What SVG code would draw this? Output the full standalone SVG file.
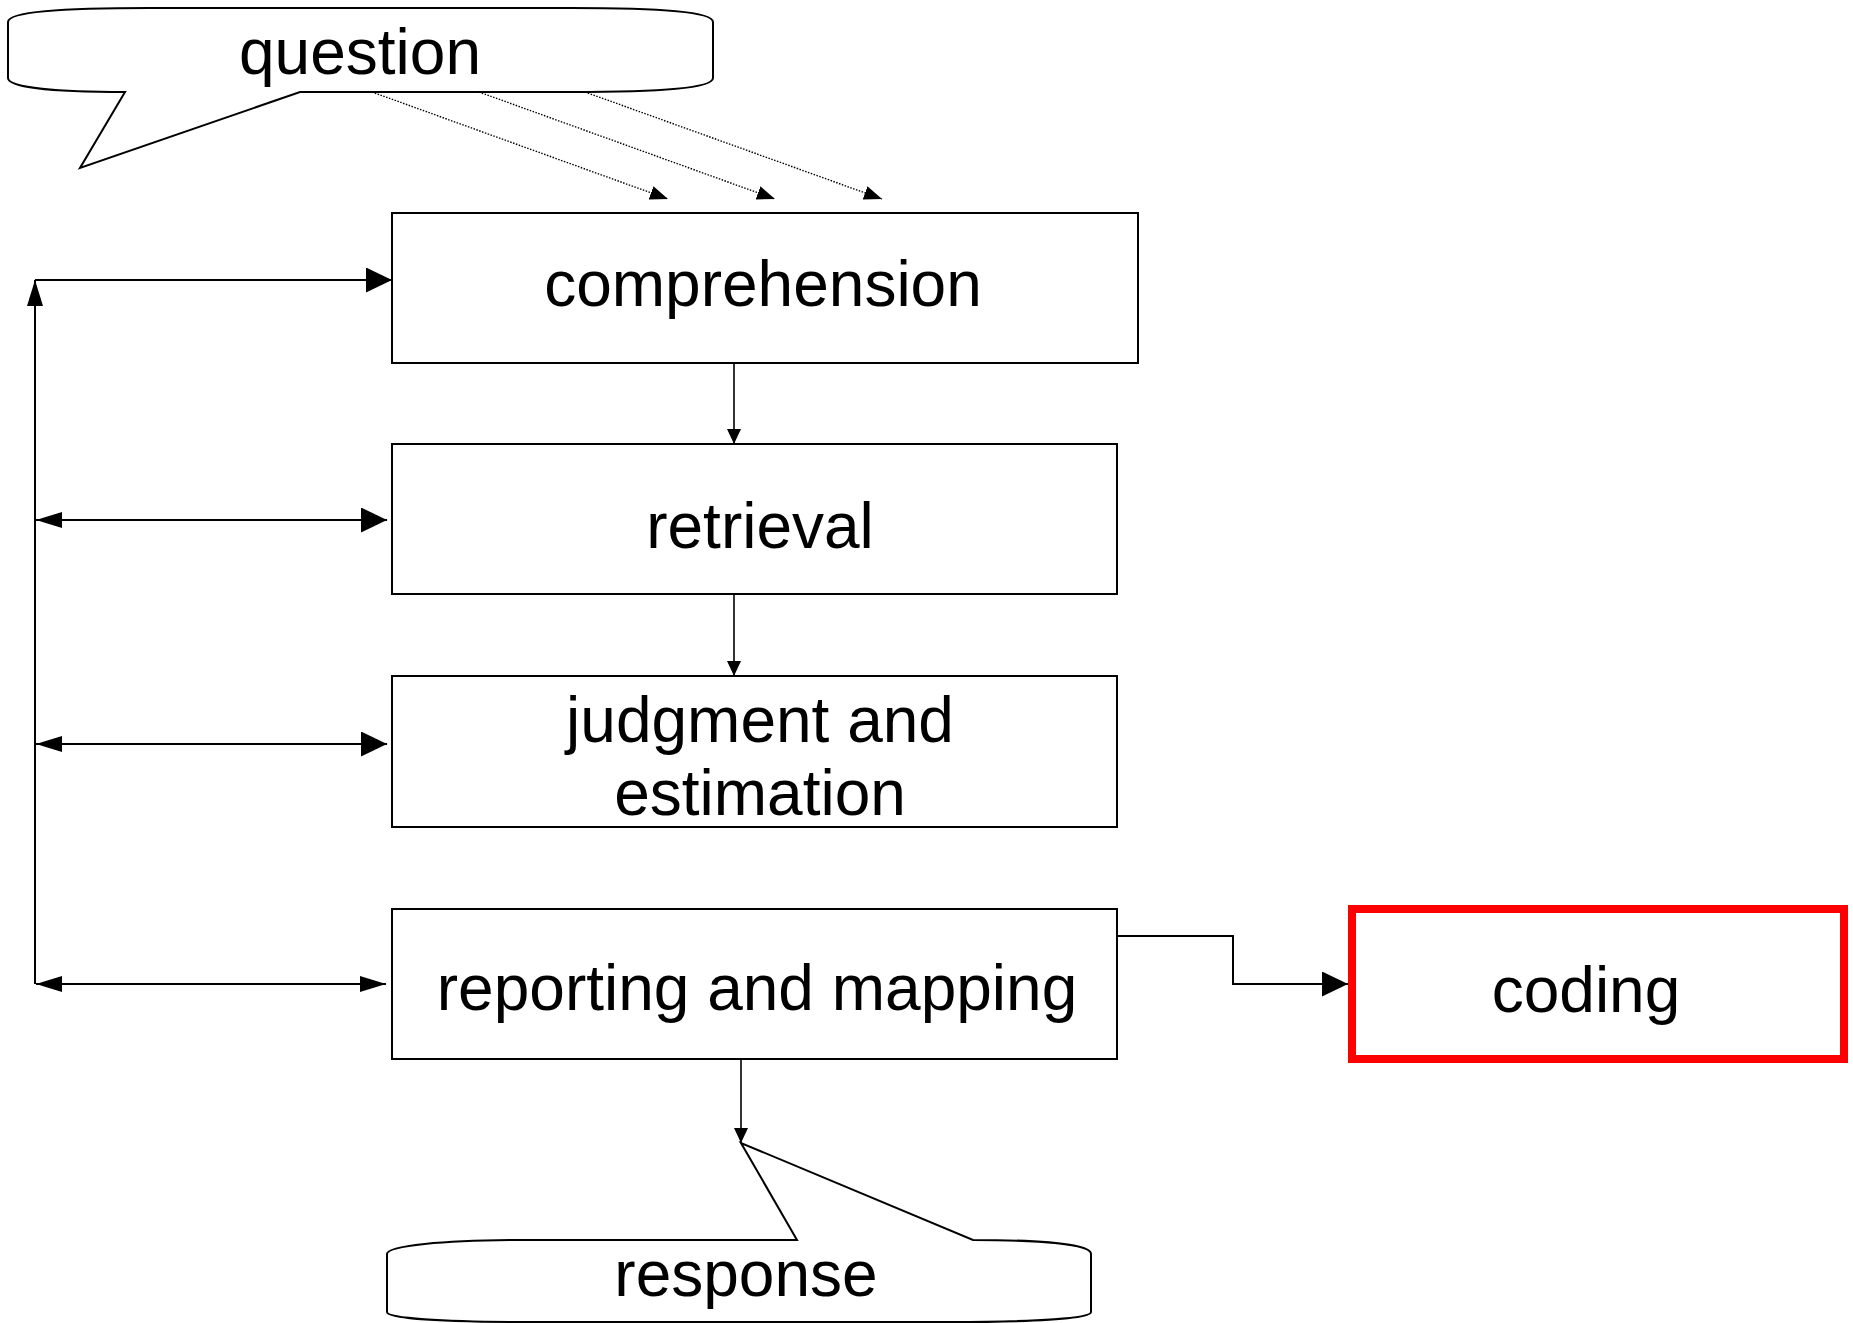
<svg xmlns="http://www.w3.org/2000/svg" width="1853" height="1323" viewBox="0 0 1853 1323">
<style>
  .box { fill: #ffffff; stroke: #000000; stroke-width: 2; }
  .bubble { fill: #ffffff; stroke: #000000; stroke-width: 2; stroke-linejoin: miter; }
  .lbl { font-family: "Liberation Sans", Arial, sans-serif; font-size: 64px; fill: #000000; text-anchor: middle; }
  .ln { fill: none; stroke: #000000; stroke-width: 2; }
  .thin { fill: none; stroke: #000000; stroke-width: 1.6; }
  .dot { fill: none; stroke: #000000; stroke-width: 1.4; stroke-dasharray: 1.5 1.5; }
</style>
<defs>
  <marker id="big" markerUnits="userSpaceOnUse" markerWidth="26" markerHeight="25" refX="26" refY="12.5" orient="auto-start-reverse">
    <path d="M0,0 L26,12.5 L0,25 Z" fill="#000"/>
  </marker>
  <marker id="med" markerUnits="userSpaceOnUse" markerWidth="26" markerHeight="16" refX="26" refY="8" orient="auto-start-reverse">
    <path d="M0,0 L26,8 L0,16 Z" fill="#000"/>
  </marker>
  <marker id="small" markerUnits="userSpaceOnUse" markerWidth="15" markerHeight="14" refX="15" refY="7" orient="auto">
    <path d="M0,0 L15,7 L0,14 Z" fill="#000"/>
  </marker>
  <marker id="dothead" markerUnits="userSpaceOnUse" markerWidth="18" markerHeight="14" refX="18" refY="7" orient="auto">
    <path d="M0,0 L18,7 L0,14 Z" fill="#000"/>
  </marker>
</defs>
<rect x="0" y="0" width="1853" height="1323" fill="#ffffff"/>

<g id="question">
  <path class="bubble" d="M 8 22 C 8 12, 60 8, 150 8 H 571 C 661 8, 713 12, 713 22 V 78 C 713 88, 661 92, 571 92 H 300 L 80 168 L 125 92 C 60 92, 8 88, 8 78 Z"/>
  <text class="lbl" x="360" y="74">question</text>
</g>

<g id="comprehension">
  <rect class="box" x="392" y="213" width="746" height="150"/>
  <text class="lbl" x="763" y="306">comprehension</text>
</g>

<g id="retrieval">
  <rect class="box" x="392" y="444" width="725" height="150"/>
  <text class="lbl" x="760" y="548">retrieval</text>
</g>

<g id="judgment">
  <rect class="box" x="392" y="676" width="725" height="151"/>
  <text class="lbl" x="760" y="742">judgment and</text>
  <text class="lbl" x="760" y="815">estimation</text>
</g>

<g id="reporting">
  <rect class="box" x="392" y="909" width="725" height="150"/>
  <text class="lbl" x="757" y="1010">reporting and mapping</text>
</g>

<g id="coding">
  <rect x="1352" y="909" width="492" height="150" fill="#ffffff" stroke="#ff0000" stroke-width="8"/>
  <text class="lbl" x="1586" y="1012">coding</text>
</g>

<g id="response">
  <path class="bubble" d="M 387 1254 C 387 1246, 440 1240, 530 1240 H 797 L 741 1143 L 973 1240 C 1040 1240, 1091 1244, 1091 1254 V 1312 C 1091 1318, 1040 1322, 950 1322 H 528 C 440 1322, 387 1318, 387 1312 Z"/>
  <text class="lbl" x="746" y="1296">response</text>
</g>

<g id="connectors">
  <line class="dot" x1="372" y1="92" x2="668" y2="199" marker-end="url(#dothead)"/>
  <line class="dot" x1="479" y1="92" x2="775" y2="199" marker-end="url(#dothead)"/>
  <line class="dot" x1="585" y1="92" x2="882" y2="199" marker-end="url(#dothead)"/>

  <line class="thin" x1="734" y1="363" x2="734" y2="444" marker-end="url(#small)"/>
  <line class="thin" x1="734" y1="594" x2="734" y2="676" marker-end="url(#small)"/>
  <line class="thin" x1="741" y1="1059" x2="741" y2="1143" marker-end="url(#small)"/>

  <line class="ln" x1="35" y1="984" x2="35" y2="280" marker-end="url(#med)"/>
  <line class="ln" x1="35" y1="280" x2="392" y2="280" marker-end="url(#big)"/>
  <line class="ln" x1="36" y1="520" x2="387" y2="520" marker-start="url(#med)" marker-end="url(#big)"/>
  <line class="ln" x1="36" y1="744" x2="387" y2="744" marker-start="url(#med)" marker-end="url(#big)"/>
  <line class="ln" x1="36" y1="984" x2="386" y2="984" marker-start="url(#med)" marker-end="url(#med)"/>

  <polyline class="ln" points="1117,936 1233,936 1233,984 1348,984" marker-end="url(#big)"/>
</g>
</svg>
